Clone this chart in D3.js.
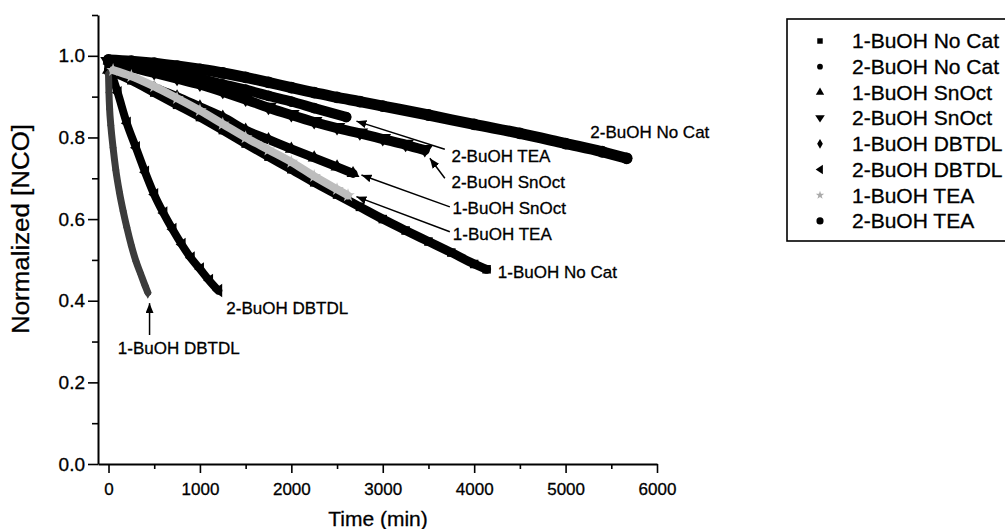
<!DOCTYPE html>
<html><head><meta charset="utf-8">
<script src="https://cdn.jsdelivr.net/npm/d3@7/dist/d3.min.js"></script>
<style>
body{margin:0;background:#fff}
text{font-family:"Liberation Sans",Arial,sans-serif;fill:#000;stroke:#000;stroke-width:0.3px}
</style>
</head><body>
<svg id="chart" width="1005" height="529"></svg>
<script>
// ---------- data (time in min, normalized [NCO]) ----------
const xMajorTicks = [0,1000,2000,3000,4000,5000,6000];
const xMinorTicks = [500,1500,2500,3500,4500,5500];
const yMajorTicks = [0,0.2,0.4,0.6,0.8,1.0];
const yMinorTicks = [0.1,0.3,0.5,0.7,0.9,1.1];

const seriesNames = ["1-BuOH No Cat","2-BuOH No Cat","1-BuOH SnOct","2-BuOH SnOct",
                     "1-BuOH DBTDL","2-BuOH DBTDL","1-BuOH TEA","2-BuOH TEA"];

const buoh1NoCat = [[0,0.965],[250,0.94],[500,0.91],[750,0.88],[1000,0.85],[1250,0.818],[1500,0.785],
  [1750,0.753],[2000,0.722],[2250,0.69],[2500,0.66],[2750,0.63],[3000,0.60],[3250,0.572],
  [3500,0.545],[3750,0.518],[4000,0.49],[4136,0.477]];
const buoh2NoCat = [[0,0.99],[250,0.987],[500,0.982],[750,0.975],[1000,0.967],[1250,0.958],[1500,0.947],
  [1750,0.935],[2000,0.922],[2250,0.91],[2500,0.898],[2750,0.888],[3000,0.877],[3500,0.855],
  [4000,0.832],[4500,0.81],[5000,0.785],[5400,0.765],[5668,0.749]];
const buoh1SnOct = [[0,0.965],[250,0.945],[500,0.922],[750,0.9],[1000,0.875],[1250,0.85],[1500,0.818],
  [1750,0.795],[2000,0.772],[2250,0.75],[2500,0.728],[2675,0.712]];
const buoh2SnOct = [[0,0.985],[250,0.972],[500,0.958],[750,0.944],[1000,0.93],[1250,0.912],[1500,0.893],
  [1750,0.873],[2000,0.855],[2250,0.838],[2500,0.823],[2750,0.81],[3000,0.796],[3250,0.782],[3460,0.769]];
const buoh1DBTDL = [[0,0.955],[5,0.91],[12,0.87],[25,0.83],[50,0.775],[80,0.72],[120,0.665],[160,0.62],
  [200,0.58],[250,0.535],[300,0.497],[350,0.467],[400,0.437],[430,0.42]];
const buoh2DBTDL = [[0,0.98],[50,0.945],[100,0.91],[200,0.835],[300,0.775],[400,0.715],[500,0.66],
  [600,0.615],[700,0.575],[800,0.538],[900,0.505],[1000,0.478],[1100,0.45],[1200,0.425]];
const buoh1TEA = [[50,0.965],[250,0.95],[500,0.925],[750,0.896],[1000,0.866],[1250,0.833],[1500,0.8],
  [1750,0.77],[2000,0.74],[2250,0.705],[2500,0.673],[2620,0.658]];
const buoh2TEA = [[0,0.985],[250,0.977],[500,0.967],[750,0.956],[1000,0.944],[1250,0.93],[1500,0.917],
  [1750,0.902],[2000,0.888],[2250,0.872],[2600,0.85]];

// annotation anchors in data units
const annotations = [
  {label:"2-BuOH No Cat", t:5270, v:0.814},
  {label:"2-BuOH TEA",   t:3752, v:0.754, from:[3679,0.771], to:[2712,0.840]},
  {label:"2-BuOH SnOct", t:3752, v:0.691, from:[3679,0.700], to:[3515,0.749]},
  {label:"1-BuOH SnOct", t:3763, v:0.626, from:[3734,0.630], to:[2767,0.708]},
  {label:"1-BuOH TEA",   t:3767, v:0.563, from:[3734,0.569], to:[2712,0.655]},
  {label:"1-BuOH No Cat",t:4259, v:0.471},
  {label:"1-BuOH DBTDL", t:102,  v:0.283, from:[449,0.316], to:[449,0.394]},
  {label:"2-BuOH DBTDL", t:1289, v:0.381}
];

// ---------- chart ----------
const svg = d3.select("#chart");
const x = d3.scaleLinear().domain([-115,6000]).range([98,657]);
const y = d3.scaleLinear().domain([0,1.1]).range([464,15]);

const triDown = {draw(ctx,size){const r=Math.sqrt(size/1.3);ctx.moveTo(-r,-r*0.6);ctx.lineTo(r,-r*0.6);ctx.lineTo(0,r*0.9);ctx.closePath();}};
const triLeft = {draw(ctx,size){const r=Math.sqrt(size/1.3);ctx.moveTo(r*0.6,-r);ctx.lineTo(r*0.6,r);ctx.lineTo(-r*0.9,0);ctx.closePath();}};

const series = [
  {name:seriesNames[0], data:buoh1NoCat, sym:d3.symbolSquare,  color:"#000", w:9},
  {name:seriesNames[1], data:buoh2NoCat, sym:d3.symbolCircle,  color:"#000", w:11},
  {name:seriesNames[2], data:buoh1SnOct, sym:d3.symbolTriangle,color:"#000", w:9},
  {name:seriesNames[3], data:buoh2SnOct, sym:triDown,          color:"#000", w:10},
  {name:seriesNames[5], data:buoh2DBTDL, sym:triLeft,          color:"#000", w:8},
  {name:seriesNames[7], data:buoh2TEA,   sym:d3.symbolCircle,  color:"#000", w:10},
  {name:seriesNames[4], data:buoh1DBTDL, sym:d3.symbolDiamond, color:"#3c3c3c", w:7},
  {name:seriesNames[6], data:buoh1TEA,   sym:d3.symbolStar,    color:"#bdbdbd", w:8}
];

const line = d3.line().x(d=>x(d[0])).y(d=>y(d[1])).curve(d3.curveMonotoneX);
const plot = svg.append("g");
series.forEach(s=>{
  plot.append("path").datum(s.data).attr("d",line)
    .attr("fill","none").attr("stroke",s.color).attr("stroke-width",s.w)
    .attr("stroke-linecap","round").attr("stroke-linejoin","round");
  plot.selectAll(null).data(s.data).join("path")
    .attr("transform",d=>`translate(${x(d[0])},${y(d[1])})`)
    .attr("d",d3.symbol().type(s.sym).size(s.w*s.w*0.9))
    .attr("fill",s.color);
});

// axes
svg.append("g").attr("transform","translate(0,464)")
  .call(d3.axisBottom(x).tickValues(xMajorTicks).tickSize(9).tickSizeOuter(0).tickPadding(10).tickFormat(d3.format("d")))
  .selectAll("text").attr("font-size","17px");
svg.append("g").attr("transform","translate(0,464)")
  .call(d3.axisBottom(x).tickValues(xMinorTicks).tickSize(5).tickSizeOuter(0).tickFormat(""))
  .select(".domain").remove();
svg.append("g").attr("transform","translate(98,0)")
  .call(d3.axisLeft(y).tickValues(yMajorTicks).tickSize(10).tickSizeOuter(0).tickPadding(3).tickFormat(d3.format(".1f")))
  .selectAll("text").attr("font-size","19px");
svg.append("g").attr("transform","translate(98,0)")
  .call(d3.axisLeft(y).tickValues(yMinorTicks).tickSize(6).tickSizeOuter(0).tickFormat(""))
  .select(".domain").remove();
svg.selectAll(".domain").attr("stroke","#000").attr("stroke-width",2);
svg.selectAll(".tick line").attr("stroke","#000").attr("stroke-width",1.6);
svg.selectAll(".tick text").attr("font-family","'Liberation Sans',Arial,sans-serif").attr("fill","#000");

// axis titles
svg.append("text").attr("x",378).attr("y",526).attr("text-anchor","middle")
  .attr("font-size","21px").text("Time (min)");
svg.append("text").attr("transform","translate(29,229) rotate(-90)").attr("text-anchor","middle")
  .attr("font-size","23px").attr("textLength",210).attr("lengthAdjust","spacingAndGlyphs")
  .text("Normalized [NCO]");

// annotations
svg.append("defs").append("marker").attr("id","ah").attr("viewBox","0 0 10 8")
  .attr("refX",10).attr("refY",4).attr("markerWidth",10).attr("markerHeight",8)
  .attr("markerUnits","userSpaceOnUse").attr("orient","auto")
  .append("path").attr("d","M0,0 L10,4 L0,8 Z").attr("fill","#000");
const ag = svg.append("g");
annotations.forEach(a=>{
  ag.append("text").attr("x",x(a.t)).attr("y",y(a.v)).attr("dy","0.35em")
    .attr("font-size","17px").text(a.label);
  if(a.from){
    ag.append("line").attr("x1",x(a.from[0])).attr("y1",y(a.from[1]))
      .attr("x2",x(a.to[0])).attr("y2",y(a.to[1]))
      .attr("stroke","#000").attr("stroke-width",1.5).attr("marker-end","url(#ah)");
  }
});

// legend
const lg = svg.append("g");
lg.append("rect").attr("x",787).attr("y",19).attr("width",240).attr("height",222)
  .attr("fill","none").attr("stroke","#000").attr("stroke-width",1.6);
const legendSyms = [d3.symbolSquare,d3.symbolCircle,d3.symbolTriangle,triDown,d3.symbolDiamond,triLeft,d3.symbolStar,d3.symbolCircle];
const legendSizes = [30,26,30,30,28,30,22,40];
const legendColors = ["#000","#000","#000","#000","#000","#000","#aaa","#000"];
seriesNames.forEach((n,i)=>{
  const yy = 41 + i*25.7;
  lg.append("path").attr("transform",`translate(820,${yy})`)
    .attr("d",d3.symbol().type(legendSyms[i]).size(legendSizes[i])).attr("fill",legendColors[i]);
  lg.append("text").attr("x",852).attr("y",yy).attr("dy","0.35em").attr("font-size","21px").text(n);
});
</script>
</body></html>
